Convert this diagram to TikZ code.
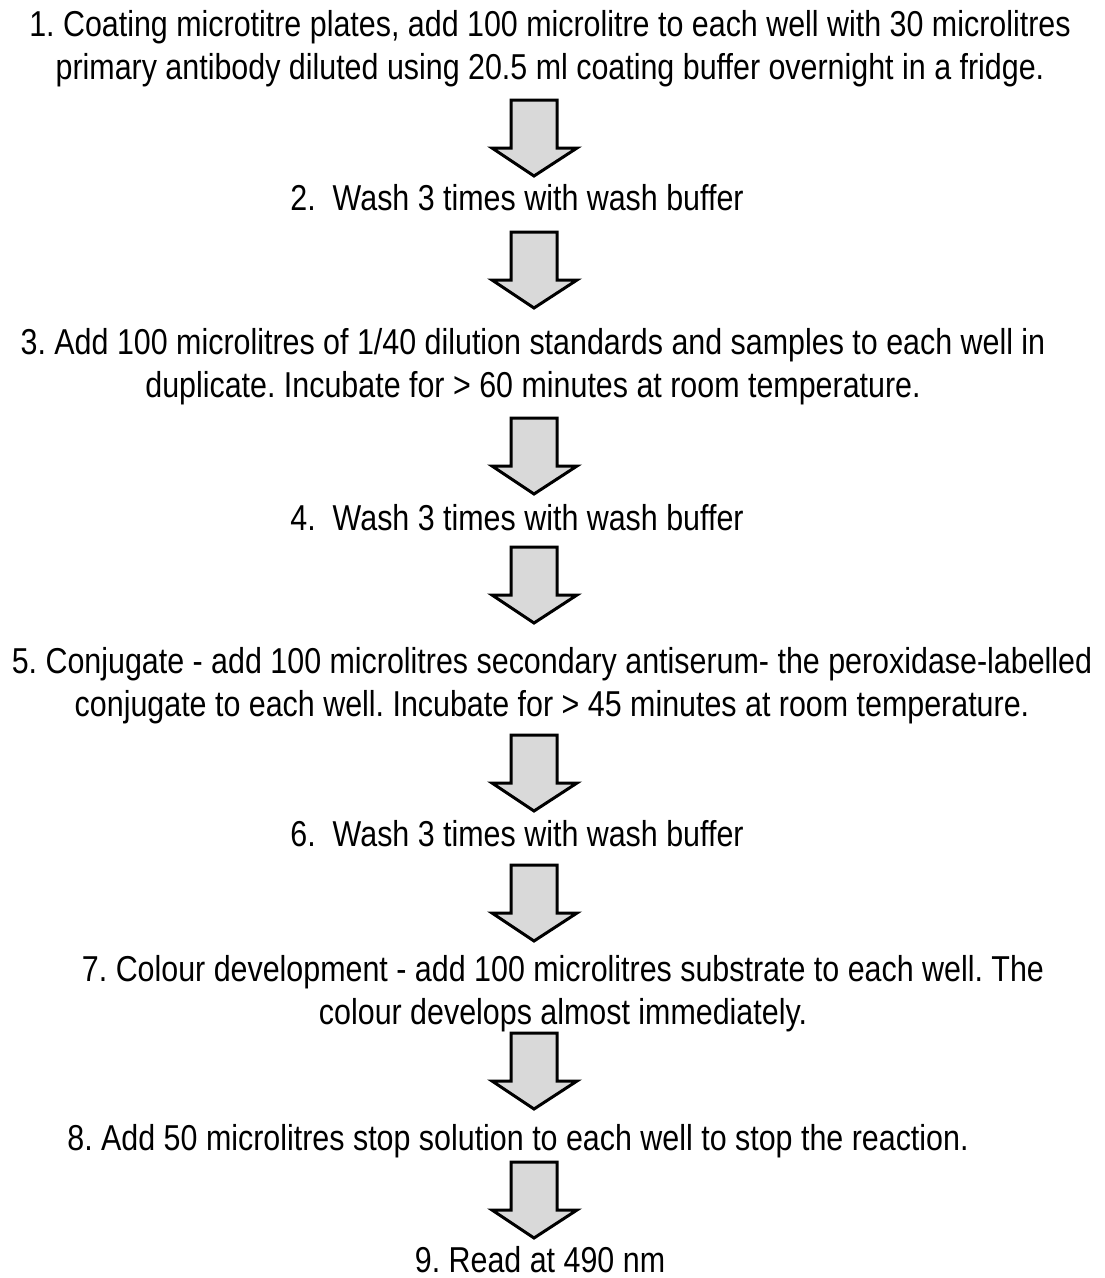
\documentclass[tikz,border=0pt]{standalone}
\usepackage{fontspec}
\setmainfont{Liberation Sans}[FakeStretch=0.845]
\usepackage{tikz}
\usetikzlibrary{positioning}
\definecolor{arrowgray}{RGB}{217,217,217}
\tikzstyle{steptext} = [align=center, inner sep=0pt, anchor=base, font=\fontsize{36}{43}\selectfont\frenchspacing]
\tikzstyle{flowarrow} = [draw=black, line width=3pt, fill=arrowgray, line join=miter]
\newcommand{\flowarrowat}[1]{\draw[flowarrow] ([xshift=-23]#1) -- ++(46,0) -- ++(0,48) -- ++(20,0) -- ++(-43,28) -- ++(-42,-28) -- ++(19,0) -- cycle;}

\begin{document}
\begin{tikzpicture}[x=1pt,y=-1pt]
	\useasboundingbox (0,0) rectangle (1104,1278);
	% steps (base = last line)
	\node[steptext] (s1) at (550,79) {1. Coating microtitre plates, add 100 microlitre to each well with 30 microlitres\\primary antibody diluted using 20.5 ml coating buffer overnight in a fridge.};
	\node[steptext] (s2) at (517,210) {2.\hspace{17pt}Wash 3 times with wash buffer};
	\node[steptext] (s3) at (533,397) {3. Add 100 microlitres of 1/40 dilution standards and samples to each well in\\duplicate. Incubate for > 60 minutes at room temperature.};
	\node[steptext] (s4) at (517,530) {4.\hspace{17pt}Wash 3 times with wash buffer};
	\node[steptext] (s5) at (552,716) {5. Conjugate - add 100 microlitres secondary antiserum- the peroxidase-labelled\\conjugate to each well. Incubate for > 45 minutes at room temperature.};
	\node[steptext] (s6) at (517,846) {6.\hspace{17pt}Wash 3 times with wash buffer};
	\node[steptext] (s7) at (563,1024) {7. Colour development - add 100 microlitres substrate to each well. The\\colour develops almost immediately.};
	\node[steptext] (s8) at (518,1150) {8. Add 50 microlitres stop solution to each well to stop the reaction.};
	\node[steptext] (s9) at (540,1272) {9. Read at 490 nm};
	% arrow tops
	\coordinate (a1) at (534,100);
	\coordinate (a2) at (534,232);
	\coordinate (a3) at (534,418);
	\coordinate (a4) at (534,547);
	\coordinate (a5) at (534,735);
	\coordinate (a6) at (534,865);
	\coordinate (a7) at (534,1033);
	\coordinate (a8) at (534,1162);
	\foreach \a in {a1,a2,a3,a4,a5,a6,a7,a8}{
		\flowarrowat{\a}
	}
\end{tikzpicture}
\end{document}
